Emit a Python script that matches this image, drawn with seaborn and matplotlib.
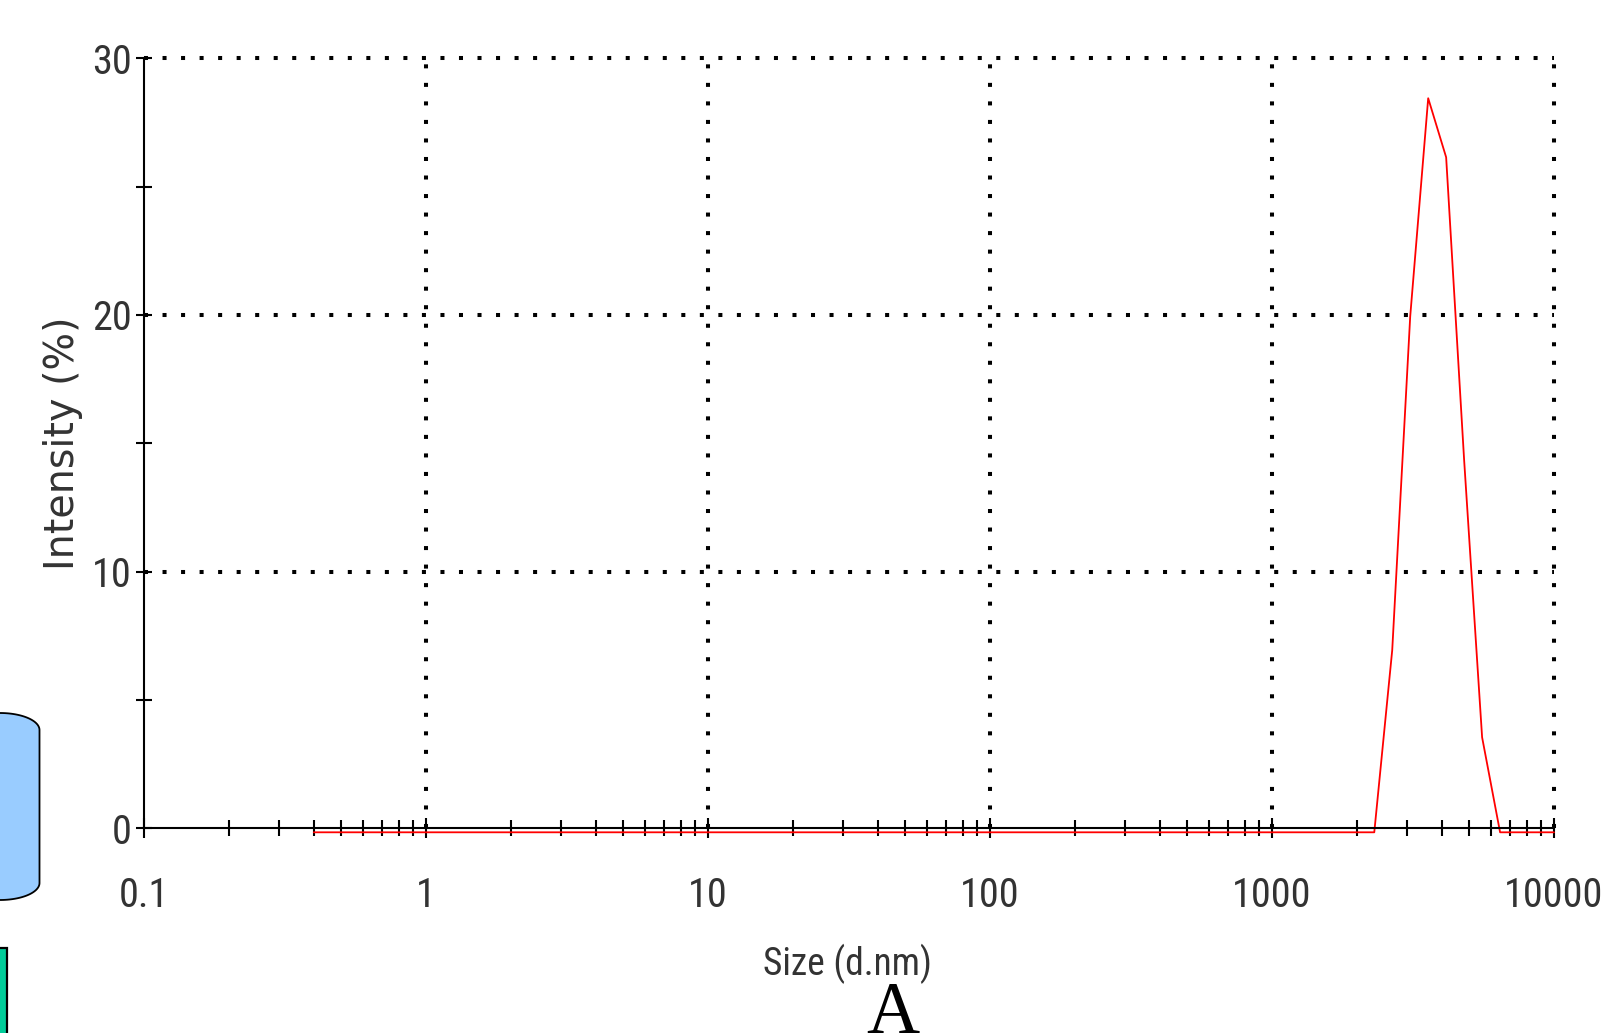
import numpy as np
import pandas as pd
import seaborn as sns
import matplotlib
matplotlib.use("Agg")
import matplotlib.pyplot as plt
from matplotlib import transforms
from matplotlib.patches import Polygon, Rectangle
from matplotlib.ticker import FixedLocator, FixedFormatter, LogLocator, NullFormatter

W, H, DPI = 1607, 1033, 100

# size classes (d.nm) of the instrument and intensity (%) per class
size_nm = [0.4, 0.4632, 0.5365, 0.6213, 0.7195, 0.8332, 0.9649, 1.117, 1.294, 1.499,
           1.736, 2.010, 2.328, 2.696, 3.122, 3.615, 4.187, 4.849, 5.615, 6.503,
           7.531, 8.721, 10.10, 11.70, 13.54, 15.69, 18.17, 21.04, 24.36, 28.21,
           32.67, 37.84, 43.82, 50.75, 58.77, 68.06, 78.82, 91.28, 105.7, 122.4,
           141.8, 164.2, 190.1, 220.2, 255.0, 295.3, 342.0, 396.1, 458.7, 531.2,
           615.1, 712.4, 825.0, 955.4, 1106, 1281, 1484, 1718, 1990, 2305,
           2669, 3091, 3580, 4145, 4801, 5560, 6439, 7456, 8635, 10000]
intensity = [0, 0, 0, 0, 0, 0, 0, 0, 0, 0,
             0, 0, 0, 0, 0, 0, 0, 0, 0, 0,
             0, 0, 0, 0, 0, 0, 0, 0, 0, 0,
             0, 0, 0, 0, 0, 0, 0, 0, 0, 0,
             0, 0, 0, 0, 0, 0, 0, 0, 0, 0,
             0, 0, 0, 0, 0, 0, 0, 0, 0, 0,
             7.1, 20.1, 28.6, 26.3, 14.5, 3.7, 0, 0, 0, 0]

x_ticks = [0.1, 1, 10, 100, 1000, 10000]
x_tick_labels = ["0.1", "1", "10", "100", "1000", "10000"]
y_ticks = [0, 10, 20, 30]
y_tick_labels = ["0", "10", "20", "30"]
y_minor = [5, 15, 25]
x_grid = [1, 10, 100, 1000, 10000]
y_grid = [10, 20, 30]

sns.set_style("white")
plt.rcParams['font.family'] = ['Roboto Condensed', 'Liberation Sans']
plt.rcParams['font.stretch'] = 'condensed'

fig = plt.figure(figsize=(W / DPI, H / DPI), dpi=DPI)
ax = fig.add_axes([144 / W, 1 - 828.3 / H, 1410 / W, 770 / H])
ax.set_xscale('log')
ax.set_xlim(0.1, 10000)
ax.set_ylim(0, 30)

df = pd.DataFrame({'size': size_nm, 'intensity': intensity})
sns.lineplot(data=df, x='size', y='intensity', ax=ax, color='#ff0000', lw=1.3)
line = ax.lines[0]
line.set_transform(transforms.offset_copy(ax.transData, fig=fig, x=0, y=-4, units='dots'))
line.set_clip_on(False)

for xv in x_grid:
    ax.axvline(xv, color='black', lw=2.9, linestyle=(0, (1, 3.6)), clip_on=False, zorder=1)
for yv in y_grid:
    ax.axhline(yv, color='black', lw=2.9, linestyle=(0, (1, 3.6)), clip_on=False, zorder=1)

for s in ['top', 'right']:
    ax.spines[s].set_visible(False)
for s in ['left', 'bottom']:
    ax.spines[s].set_color('black')
    ax.spines[s].set_linewidth(1.5)

ax.xaxis.set_major_locator(FixedLocator(x_ticks))
ax.xaxis.set_major_formatter(FixedFormatter(x_tick_labels))
ax.xaxis.set_minor_locator(LogLocator(base=10, subs=[2, 3, 4, 5, 6, 7, 8, 9]))
ax.xaxis.set_minor_formatter(NullFormatter())
ax.yaxis.set_major_locator(FixedLocator(y_ticks))
ax.yaxis.set_major_formatter(FixedFormatter(y_tick_labels))
ax.yaxis.set_minor_locator(FixedLocator(y_minor))

ax.tick_params(axis='x', which='major', direction='inout', length=15, width=1.5,
               color='black', labelsize=29, labelcolor='#333333', pad=27, bottom=True)
ax.tick_params(axis='x', which='minor', direction='inout', length=11, width=1.5,
               color='black', bottom=True)
ax.tick_params(axis='y', which='major', direction='inout', length=11.5, width=1.5,
               color='black', labelsize=29, labelcolor='#333333', pad=3, left=True)
ax.tick_params(axis='y', which='minor', direction='inout', length=11.5, width=1.5,
               color='black', left=True)

ax.set_xlabel('Size (d.nm)', fontsize=27, color='#333333')
ax.set_ylabel('Intensity (%)', fontsize=28.5, color='#333333',
              family='DejaVu Sans', stretch='normal')
ax.xaxis.set_label_coords(0.499, -0.150)
ax.yaxis.set_label_coords(-0.043, 0.5)

fig.text(892.5 / W, 0.0, 'A', family='Liberation Serif', stretch='normal', fontsize=53,
         ha='center', va='baseline', color='black')


def fig_xy(px, py):
    return np.column_stack([np.asarray(px) / W, 1 - np.asarray(py) / H])


# slide decorations cut by the left border
t = np.linspace(0, np.pi, 60)
a, b = 39.5, 17
cx = np.concatenate([a * np.cos(t), a * np.cos(t[::-1])])
cy = np.concatenate([730 - b * np.sin(t), 883 + b * np.sin(t[::-1])])
fig.patches.append(Polygon(fig_xy(cx, cy), closed=True, facecolor='#99ccff',
                           edgecolor='black', lw=1.3, transform=fig.transFigure))
fig.patches.append(Rectangle((-12 / W, 1 - 1050 / H), 18.5 / W, 102 / H,
                             facecolor='#00cc99', edgecolor='black', lw=1.6,
                             transform=fig.transFigure))

fig.savefig('out.png', dpi=DPI)
